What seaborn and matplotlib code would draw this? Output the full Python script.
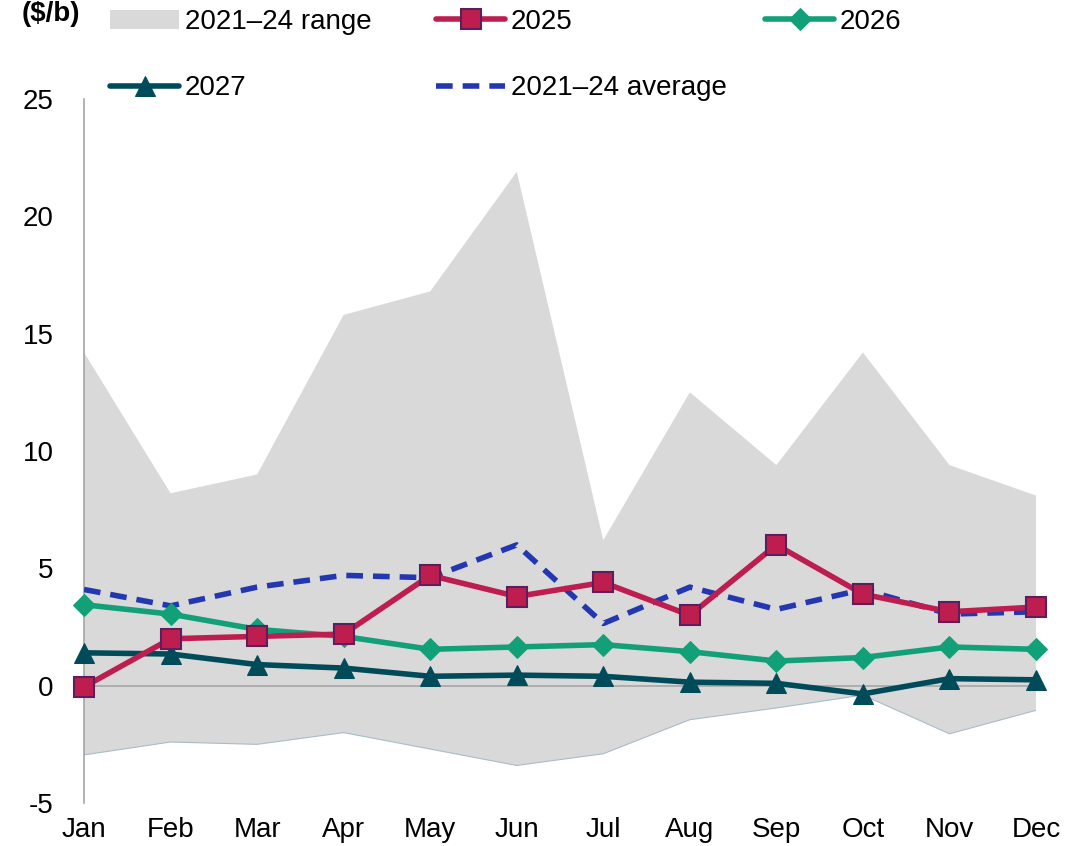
import numpy as np
import pandas as pd
import matplotlib
matplotlib.use('Agg')
import matplotlib.pyplot as plt
import seaborn as sns

# ------- values ------------------------------------- #
months = ['Jan', 'Feb', 'Mar', 'Apr', 'May', 'Jun', 'Jul', 'Aug', 'Sep', 'Oct', 'Nov', 'Dec']
range_high = [14.2, 8.2, 9.0, 15.8, 16.8, 21.9, 6.2, 12.5, 9.4, 14.2, 9.4, 8.1]
range_low = [-2.95, -2.4, -2.5, -2.0, -2.7, -3.4, -2.9, -1.45, -0.95, -0.4, -2.05, -1.05]
y2025 = [-0.05, 2.0, 2.1, 2.2, 4.7, 3.8, 4.4, 3.0, 6.0, 3.9, 3.15, 3.35]
y2026 = [3.45, 3.05, 2.4, 2.1, 1.55, 1.65, 1.75, 1.45, 1.05, 1.2, 1.65, 1.55]
y2027 = [1.4, 1.35, 0.9, 0.75, 0.4, 0.45, 0.4, 0.15, 0.1, -0.35, 0.3, 0.25]
avg_2124 = [4.1, 3.4, 4.2, 4.7, 4.6, 6.0, 2.65, 4.2, 3.25, 4.1, 3.05, 3.15]
yticks = [-5, 0, 5, 10, 15, 20, 25]

df = pd.DataFrame({'pos': np.arange(len(months)), 'month': months,
                   'high': range_high, 'low': range_low,
                   '2025': y2025, '2026': y2026, '2027': y2027, 'avg': avg_2124})

sns.set_theme(style='white')
plt.rcParams['font.family'] = ['Liberation Sans', 'DejaVu Sans']

fig = plt.figure(figsize=(10.91, 8.46), dpi=100)
ax = fig.add_axes([0.077, 0.0508, 0.8726, 0.8322])

ax.fill_between(df['pos'], df['low'], df['high'], facecolor='#d9d9d9',
                edgecolor='none', linewidth=0, label='2021\u201324 range', zorder=1)
ax.plot(df['pos'], df['low'], color='#a9bcc6', linewidth=0.8, zorder=1.5)
ax.axhline(0, color='#a6a6a6', linewidth=1.2, zorder=2)

sns.lineplot(data=df, x='pos', y='avg', color='#2337b0', linewidth=4, dashes=False,
             linestyle=(0, (3, 1.8)), label='2021\u201324 average', ax=ax, zorder=4)
sns.lineplot(data=df, x='pos', y='2027', color='#004b5a', linewidth=4, marker='^',
             markersize=15, markeredgecolor='#004b5a', label='2027', ax=ax, zorder=5, clip_on=False)
sns.lineplot(data=df, x='pos', y='2026', color='#12a078', linewidth=4, marker='D',
             markersize=11, markeredgecolor='#12a078', label='2026', ax=ax, zorder=6, clip_on=False)
sns.lineplot(data=df, x='pos', y='2025', color='#be1e4f', linewidth=4, marker='s',
             markersize=14, markeredgecolor='#5c1f5c', markeredgewidth=1.5,
             label='2025', ax=ax, zorder=7, clip_on=False)

ax.set_xlim(0, len(months) - 1)
ax.set_ylim(-5, 25)
ax.set_xticks(df['pos'])
ax.set_xticklabels(months)
ax.set_yticks(yticks)
ax.set_yticklabels([str(t) for t in yticks])
ax.tick_params(axis='both', length=0, labelsize=20, colors='black')
ax.tick_params(axis='y', pad=22)
ax.tick_params(axis='x', pad=10)
ax.set_xlabel('')
ax.set_ylabel('')
for side in ['top', 'right', 'bottom']:
    ax.spines[side].set_visible(False)
ax.spines['left'].set_color('#a6a6a6')
ax.spines['left'].set_linewidth(1.2)

handles, labels = ax.get_legend_handles_labels()
ax.get_legend().remove()
lookup = dict(zip(labels, handles))

# excel style legend: three equal-width columns
columns = [['2021\u201324 range', '2027'], ['2025', '2021\u201324 average'], ['2026']]
col_x = [110, 436, 765]
for names, x0 in zip(columns, col_x):
    leg = fig.legend([lookup[n] for n in names], names, loc='upper left',
                     bbox_to_anchor=(x0 / 1091, 1 - 9 / 846), frameon=False, fontsize=20,
                     handlelength=2.5, handletextpad=0.2, labelspacing=1.45, borderpad=0,
                     borderaxespad=0)
    for t in leg.get_texts():
        t.set_color('black')

fig.text(22 / 1091, 1 - 14 / 846, '($/b)', fontsize=20, fontweight='bold', va='center',
         ha='left', color='black')

fig.savefig('out.png', dpi=100)
